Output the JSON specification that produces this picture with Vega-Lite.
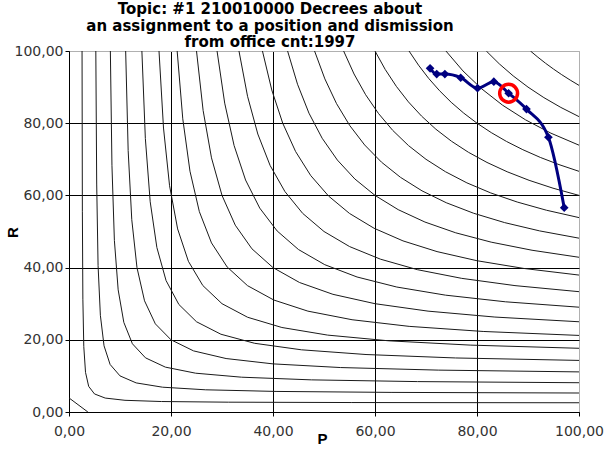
{
  "$schema": "https://vega.github.io/schema/vega-lite/v6.json",
  "width": 510,
  "height": 361,
  "autosize": {"type": "none"},
  "padding": {"left": 69, "top": 51, "right": 26, "bottom": 37},
  "background": "white",
  "config": {
    "view": {"stroke": "#b0b0b0", "strokeWidth": 1},
    "axis": {
      "domainColor": "#000000",
      "tickColor": "#000000",
      "tickSize": 4,
      "labelFont": "DejaVu Sans",
      "labelFontSize": 14,
      "labelColor": "#333333",
      "titleFont": "Liberation Sans",
      "titleFontWeight": "bold",
      "titleFontSize": 15,
      "titleColor": "#000000",
      "gridWidth": 1,
      "gridOpacity": 1
    }
  },
  "title": {
    "text": ["Topic: #1 210010000 Decrees about", "an assignment to a position and dismission", "from office  cnt:1997"],
    "font": "DejaVu Sans",
    "fontWeight": "bold",
    "fontSize": 15,
    "color": "#000000",
    "anchor": "middle",
    "baseline": "alphabetic",
    "lineHeight": 16.5,
    "offset": 7,
    "dx": -54,
    "dy": 25
  },
  "datasets": {
    "curves": [
      {"f": 0, "p": 0, "r": 3.9}, {"f": 0, "p": 3.7, "r": 0},
      {"f": 5, "p": 2.56, "r": 100}, {"f": 5, "p": 2.62, "r": 55.45}, {"f": 5, "p": 2.72, "r": 31.25}, {"f": 5, "p": 2.9, "r": 18.11}, {"f": 5, "p": 3.24, "r": 10.98}, {"f": 5, "p": 3.86, "r": 7.1}, {"f": 5, "p": 5, "r": 5}, {"f": 5, "p": 7.1, "r": 3.86}, {"f": 5, "p": 10.98, "r": 3.24}, {"f": 5, "p": 18.11, "r": 2.9}, {"f": 5, "p": 31.25, "r": 2.72}, {"f": 5, "p": 55.45, "r": 2.62}, {"f": 5, "p": 100, "r": 2.56},
      {"f": 10, "p": 5.26, "r": 100}, {"f": 10, "p": 5.43, "r": 63.15}, {"f": 10, "p": 5.7, "r": 40.6}, {"f": 10, "p": 6.15, "r": 26.79}, {"f": 10, "p": 6.87, "r": 18.34}, {"f": 10, "p": 8.06, "r": 13.17}, {"f": 10, "p": 10, "r": 10}, {"f": 10, "p": 13.17, "r": 8.06}, {"f": 10, "p": 18.34, "r": 6.87}, {"f": 10, "p": 26.79, "r": 6.15}, {"f": 10, "p": 40.6, "r": 5.7}, {"f": 10, "p": 63.15, "r": 5.43}, {"f": 10, "p": 100, "r": 5.26},
      {"f": 15, "p": 8.11, "r": 100}, {"f": 15, "p": 8.42, "r": 68.35}, {"f": 15, "p": 8.9, "r": 47.53}, {"f": 15, "p": 9.64, "r": 33.84}, {"f": 15, "p": 10.75, "r": 24.83}, {"f": 15, "p": 12.43, "r": 18.9}, {"f": 15, "p": 15, "r": 15}, {"f": 15, "p": 18.9, "r": 12.43}, {"f": 15, "p": 24.83, "r": 10.75}, {"f": 15, "p": 33.84, "r": 9.64}, {"f": 15, "p": 47.53, "r": 8.9}, {"f": 15, "p": 68.35, "r": 8.42}, {"f": 15, "p": 100, "r": 8.11},
      {"f": 20, "p": 11.11, "r": 100}, {"f": 20, "p": 11.6, "r": 72.4}, {"f": 20, "p": 12.31, "r": 53.27}, {"f": 20, "p": 13.33, "r": 40}, {"f": 20, "p": 14.81, "r": 30.8}, {"f": 20, "p": 16.93, "r": 24.42}, {"f": 20, "p": 20, "r": 20}, {"f": 20, "p": 24.42, "r": 16.93}, {"f": 20, "p": 30.8, "r": 14.81}, {"f": 20, "p": 40, "r": 13.33}, {"f": 20, "p": 53.27, "r": 12.31}, {"f": 20, "p": 72.4, "r": 11.6}, {"f": 20, "p": 100, "r": 11.11},
      {"f": 25, "p": 14.29, "r": 100}, {"f": 25, "p": 14.97, "r": 75.77}, {"f": 25, "p": 15.92, "r": 58.24}, {"f": 25, "p": 17.23, "r": 45.57}, {"f": 25, "p": 19.03, "r": 36.41}, {"f": 25, "p": 21.54, "r": 29.79}, {"f": 25, "p": 25, "r": 25}, {"f": 25, "p": 29.79, "r": 21.54}, {"f": 25, "p": 36.41, "r": 19.03}, {"f": 25, "p": 45.57, "r": 17.23}, {"f": 25, "p": 58.24, "r": 15.92}, {"f": 25, "p": 75.77, "r": 14.97}, {"f": 25, "p": 100, "r": 14.29},
      {"f": 30, "p": 17.65, "r": 100}, {"f": 30, "p": 18.53, "r": 78.66}, {"f": 30, "p": 19.72, "r": 62.67}, {"f": 30, "p": 21.3, "r": 50.71}, {"f": 30, "p": 23.41, "r": 41.74}, {"f": 30, "p": 26.24, "r": 35.03}, {"f": 30, "p": 30, "r": 30}, {"f": 30, "p": 35.03, "r": 26.24}, {"f": 30, "p": 41.74, "r": 23.41}, {"f": 30, "p": 50.71, "r": 21.3}, {"f": 30, "p": 62.67, "r": 19.72}, {"f": 30, "p": 78.66, "r": 18.53}, {"f": 30, "p": 100, "r": 17.65},
      {"f": 35, "p": 21.21, "r": 100}, {"f": 35, "p": 22.31, "r": 81.21}, {"f": 35, "p": 23.72, "r": 66.7}, {"f": 35, "p": 25.56, "r": 55.5}, {"f": 35, "p": 27.94, "r": 46.84}, {"f": 35, "p": 31.02, "r": 40.16}, {"f": 35, "p": 35, "r": 35}, {"f": 35, "p": 40.16, "r": 31.02}, {"f": 35, "p": 46.84, "r": 27.94}, {"f": 35, "p": 55.5, "r": 25.56}, {"f": 35, "p": 66.7, "r": 23.72}, {"f": 35, "p": 81.21, "r": 22.31}, {"f": 35, "p": 100, "r": 21.21},
      {"f": 40, "p": 25, "r": 100}, {"f": 40, "p": 26.3, "r": 83.5}, {"f": 40, "p": 27.94, "r": 70.4}, {"f": 40, "p": 30, "r": 60}, {"f": 40, "p": 32.6, "r": 51.75}, {"f": 40, "p": 35.87, "r": 45.2}, {"f": 40, "p": 40, "r": 40}, {"f": 40, "p": 45.2, "r": 35.87}, {"f": 40, "p": 51.75, "r": 32.6}, {"f": 40, "p": 60, "r": 30}, {"f": 40, "p": 70.4, "r": 27.94}, {"f": 40, "p": 83.5, "r": 26.3}, {"f": 40, "p": 100, "r": 25},
      {"f": 45, "p": 29.03, "r": 100}, {"f": 45, "p": 30.53, "r": 85.56}, {"f": 45, "p": 32.37, "r": 73.82}, {"f": 45, "p": 34.62, "r": 64.26}, {"f": 45, "p": 37.4, "r": 56.48}, {"f": 45, "p": 40.81, "r": 50.15}, {"f": 45, "p": 45, "r": 45}, {"f": 45, "p": 50.15, "r": 40.81}, {"f": 45, "p": 56.48, "r": 37.4}, {"f": 45, "p": 64.26, "r": 34.62}, {"f": 45, "p": 73.82, "r": 32.37}, {"f": 45, "p": 85.56, "r": 30.53}, {"f": 45, "p": 100, "r": 29.03},
      {"f": 50, "p": 33.33, "r": 100}, {"f": 50, "p": 35.01, "r": 87.45}, {"f": 50, "p": 37.02, "r": 77}, {"f": 50, "p": 39.43, "r": 68.3}, {"f": 50, "p": 42.34, "r": 61.06}, {"f": 50, "p": 45.82, "r": 55.02}, {"f": 50, "p": 50, "r": 50}, {"f": 50, "p": 55.02, "r": 45.82}, {"f": 50, "p": 61.06, "r": 42.34}, {"f": 50, "p": 68.3, "r": 39.43}, {"f": 50, "p": 77, "r": 37.02}, {"f": 50, "p": 87.45, "r": 35.01}, {"f": 50, "p": 100, "r": 33.33},
      {"f": 55, "p": 37.93, "r": 100}, {"f": 55, "p": 39.76, "r": 89.2}, {"f": 55, "p": 41.91, "r": 79.99}, {"f": 55, "p": 44.43, "r": 72.16}, {"f": 55, "p": 47.4, "r": 65.49}, {"f": 55, "p": 50.9, "r": 59.82}, {"f": 55, "p": 55, "r": 55}, {"f": 55, "p": 59.82, "r": 50.9}, {"f": 55, "p": 65.49, "r": 47.4}, {"f": 55, "p": 72.16, "r": 44.43}, {"f": 55, "p": 79.99, "r": 41.91}, {"f": 55, "p": 89.2, "r": 39.76}, {"f": 55, "p": 100, "r": 37.93},
      {"f": 60, "p": 42.86, "r": 100}, {"f": 60, "p": 44.81, "r": 90.79}, {"f": 60, "p": 47.05, "r": 82.78}, {"f": 60, "p": 49.64, "r": 75.83}, {"f": 60, "p": 52.62, "r": 69.79}, {"f": 60, "p": 56.05, "r": 64.55}, {"f": 60, "p": 60, "r": 60}, {"f": 60, "p": 64.55, "r": 56.05}, {"f": 60, "p": 69.79, "r": 52.62}, {"f": 60, "p": 75.83, "r": 49.64}, {"f": 60, "p": 82.78, "r": 47.05}, {"f": 60, "p": 90.79, "r": 44.81}, {"f": 60, "p": 100, "r": 42.86},
      {"f": 65, "p": 48.15, "r": 100}, {"f": 65, "p": 50.17, "r": 92.27}, {"f": 65, "p": 52.46, "r": 85.42}, {"f": 65, "p": 55.05, "r": 79.35}, {"f": 65, "p": 57.97, "r": 73.97}, {"f": 65, "p": 61.27, "r": 69.21}, {"f": 65, "p": 65, "r": 65}, {"f": 65, "p": 69.21, "r": 61.27}, {"f": 65, "p": 73.97, "r": 57.97}, {"f": 65, "p": 79.35, "r": 55.05}, {"f": 65, "p": 85.42, "r": 52.46}, {"f": 65, "p": 92.27, "r": 50.17}, {"f": 65, "p": 100, "r": 48.15},
      {"f": 70, "p": 53.85, "r": 100}, {"f": 70, "p": 55.89, "r": 93.63}, {"f": 70, "p": 58.16, "r": 87.89}, {"f": 70, "p": 60.68, "r": 82.7}, {"f": 70, "p": 63.47, "r": 78.02}, {"f": 70, "p": 66.57, "r": 73.8}, {"f": 70, "p": 70, "r": 70}, {"f": 70, "p": 73.8, "r": 66.57}, {"f": 70, "p": 78.02, "r": 63.47}, {"f": 70, "p": 82.7, "r": 60.68}, {"f": 70, "p": 87.89, "r": 58.16}, {"f": 70, "p": 93.63, "r": 55.89}, {"f": 70, "p": 100, "r": 53.85},
      {"f": 75, "p": 60, "r": 100}, {"f": 75, "p": 62, "r": 94.9}, {"f": 75, "p": 64.18, "r": 90.21}, {"f": 75, "p": 66.55, "r": 85.91}, {"f": 75, "p": 69.13, "r": 81.96}, {"f": 75, "p": 71.94, "r": 78.33}, {"f": 75, "p": 75, "r": 75}, {"f": 75, "p": 78.33, "r": 71.94}, {"f": 75, "p": 81.96, "r": 69.13}, {"f": 75, "p": 85.91, "r": 66.55}, {"f": 75, "p": 90.21, "r": 64.18}, {"f": 75, "p": 94.9, "r": 62}, {"f": 75, "p": 100, "r": 60},
      {"f": 80, "p": 66.67, "r": 100}, {"f": 80, "p": 68.53, "r": 96.08}, {"f": 80, "p": 70.52, "r": 92.42}, {"f": 80, "p": 72.66, "r": 88.99}, {"f": 80, "p": 74.94, "r": 85.79}, {"f": 80, "p": 77.39, "r": 82.8}, {"f": 80, "p": 80, "r": 80}, {"f": 80, "p": 82.8, "r": 77.39}, {"f": 80, "p": 85.79, "r": 74.94}, {"f": 80, "p": 88.99, "r": 72.66}, {"f": 80, "p": 92.42, "r": 70.52}, {"f": 80, "p": 96.08, "r": 68.53}, {"f": 80, "p": 100, "r": 66.67},
      {"f": 85, "p": 73.91, "r": 100}, {"f": 85, "p": 77.24, "r": 94.49}, {"f": 85, "p": 80.93, "r": 89.51}, {"f": 85, "p": 85, "r": 85}, {"f": 85, "p": 89.51, "r": 80.93}, {"f": 85, "p": 94.49, "r": 77.24}, {"f": 85, "p": 100, "r": 73.91},
      {"f": 90, "p": 81.82, "r": 100}, {"f": 90, "p": 84.37, "r": 96.44}, {"f": 90, "p": 87.09, "r": 93.11}, {"f": 90, "p": 90, "r": 90}, {"f": 90, "p": 93.11, "r": 87.09}, {"f": 90, "p": 96.44, "r": 84.37}, {"f": 90, "p": 100, "r": 81.82},
      {"f": 95, "p": 90.48, "r": 100}, {"f": 95, "p": 91.94, "r": 98.28}, {"f": 95, "p": 93.44, "r": 96.61}, {"f": 95, "p": 95, "r": 95}, {"f": 95, "p": 96.61, "r": 93.44}, {"f": 95, "p": 98.28, "r": 91.94}, {"f": 95, "p": 100, "r": 90.48}
    ],
    "series": [
      {"p": 70.8, "r": 95.2}, {"p": 72.1, "r": 93.6}, {"p": 73.7, "r": 93.6}, {"p": 76.8, "r": 92.6}, {"p": 80.1, "r": 89.7},
      {"p": 83.3, "r": 91.5}, {"p": 86.2, "r": 88.3}, {"p": 89.7, "r": 83.9}, {"p": 94.0, "r": 76.1}, {"p": 97.1, "r": 56.6}
    ],
    "highlight": [{"p": 86.2, "r": 88.3}]
  },
  "layer": [
    {
      "data": {"name": "curves"},
      "mark": {"type": "line", "color": "#1a1a1a", "strokeWidth": 1, "clip": true},
      "encoding": {
        "x": {
          "field": "p", "type": "quantitative",
          "scale": {"domain": [0, 100], "nice": false, "zero": false},
          "axis": {
            "values": [0, 20, 40, 60, 80, 100],
            "labelExpr": "replace(format(datum.value, '.2f'), '.', ',')",
            "labelPadding": 8,
            "labelFlush": false,
            "title": "P",
            "titleX": 253,
            "titleY": 31,
            "titleAlign": "center",
            "titleBaseline": "alphabetic",
            "grid": true,
            "gridColor": {"condition": {"test": "datum.value === 100", "value": "#b0b0b0"}, "value": "#000000"}
          }
        },
        "y": {
          "field": "r", "type": "quantitative",
          "scale": {"domain": [0, 100], "nice": false, "zero": false},
          "axis": {
            "values": [0, 20, 40, 60, 80, 100],
            "labelExpr": "replace(format(datum.value, '.2f'), '.', ',')",
            "labelPadding": 2,
            "labelFlush": false,
            "title": "R",
            "titleAngle": -90,
            "titleX": -57,
            "titleY": 181,
            "titleAlign": "center",
            "titleBaseline": "middle",
            "grid": true,
            "gridColor": {"condition": {"test": "datum.value === 100", "value": "#b0b0b0"}, "value": "#000000"}
          }
        },
        "detail": {"field": "f", "type": "nominal"}
      }
    },
    {
      "data": {"name": "series"},
      "mark": {"type": "line", "color": "#000080", "strokeWidth": 3, "interpolate": "monotone"},
      "encoding": {
        "x": {"field": "p", "type": "quantitative"},
        "y": {"field": "r", "type": "quantitative"}
      }
    },
    {
      "data": {"name": "series"},
      "mark": {"type": "point", "shape": "diamond", "filled": true, "color": "#000080", "size": 75, "opacity": 1},
      "encoding": {
        "x": {"field": "p", "type": "quantitative"},
        "y": {"field": "r", "type": "quantitative"}
      }
    },
    {
      "data": {"name": "highlight"},
      "mark": {"type": "point", "shape": "circle", "filled": false, "stroke": "#ff0000", "strokeWidth": 3.5, "size": 320, "opacity": 1},
      "encoding": {
        "x": {"field": "p", "type": "quantitative"},
        "y": {"field": "r", "type": "quantitative"}
      }
    }
  ]
}
